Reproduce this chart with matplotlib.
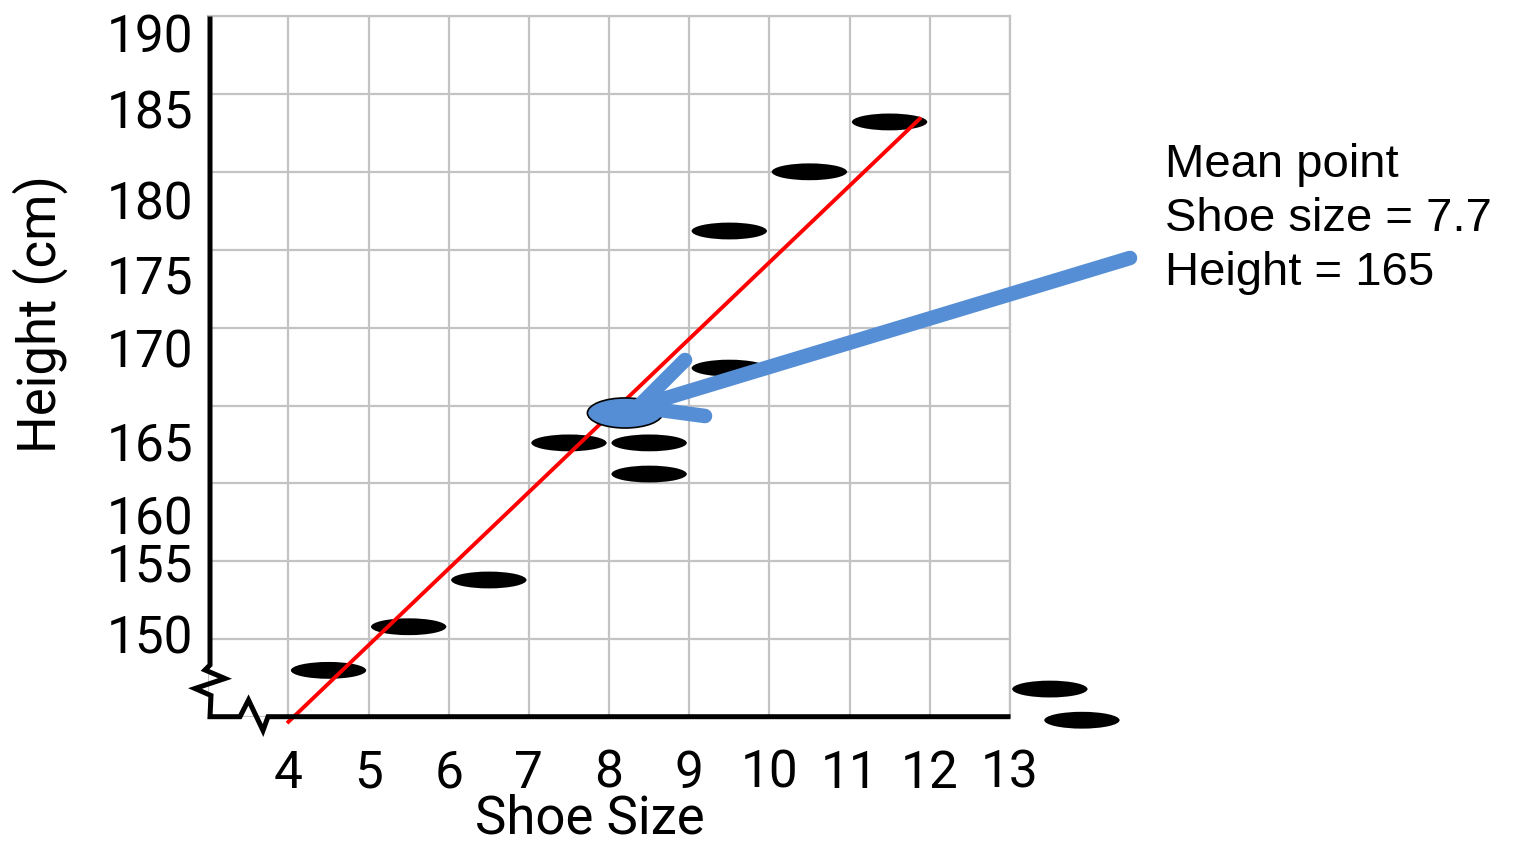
import matplotlib
matplotlib.use("Agg")
import matplotlib.pyplot as plt
import matplotlib.transforms as mtransforms
from matplotlib.patches import Ellipse

# ---- data -------------------------------------------------------------
shoe_sizes = [4, 5, 6, 7, 8, 8, 9, 9, 10, 11]
heights = [148.0, 150.8, 153.8, 162.6, 162.6, 160.6, 167.4, 176.2, 180.0, 183.2]

# two stray points sitting outside the plotted range
extra_sizes = [13.0, 13.4]
extra_heights = [146.8, 144.8]

# hand-drawn line of best fit (end points)
fit_sizes = [3.5, 11.375]
fit_heights = [144.7, 183.4]

x_tick_values = [4, 5, 6, 7, 8, 9, 10, 11, 12, 13]
x_tick_labels = ["4", "5", "6", "7", "8", "9", "10", "11", "12", "13"]
y_tick_labels = ["190", "185", "180", "175", "170", "165", "160", "155", "150"]

# ---- layout / style ---------------------------------------------------
W, H = 1518, 843
CELL = 0.5                 # each size is drawn in the middle of its grid cell
y_label_pos = [187.63, 182.81, 176.91, 172.22, 167.47, 161.50, 156.70, 153.70, 149.11]
BLUE = "#558ed5"
GRID = "#c3c3c3"
TICK_FONT = ["Roboto", "DejaVu Sans"]

mean_size = sum(shoe_sizes) / len(shoe_sizes)
mean_height = sum(heights) / len(heights)

fig = plt.figure(figsize=(W / 100, H / 100), dpi=100)
x0_px, x1_px, y0_px, y1_px = 208.3, 1009.8, 16.0, 717.1
ax = fig.add_axes([x0_px / W, 1 - y1_px / H, (x1_px - x0_px) / W, (y1_px - y0_px) / H])
ax.set_xlim(3, 13)
ax.set_ylim(145, 190)

ax.set_xticks(range(3, 14))
ax.set_yticks(range(145, 191, 5))
ax.tick_params(which="both", length=0, labelleft=False, labelbottom=False)
ax.grid(True, color=GRID, lw=1.6, zorder=0)
ax.set_axisbelow(True)
for side in ("left", "bottom"):
    ax.spines[side].set_visible(False)
for side in ("top", "right"):
    ax.spines[side].set_color(GRID)
    ax.spines[side].set_linewidth(1.6)

# data points
for s, h in zip(shoe_sizes + extra_sizes, heights + extra_heights):
    ax.add_patch(Ellipse((s + CELL, h), width=0.94, height=1.08,
                         facecolor="black", edgecolor="none", zorder=3, clip_on=False))

# line of best fit
ax.plot([s + CELL for s in fit_sizes], fit_heights, color="#ff0000", lw=2.8,
        zorder=4, clip_on=False)

# mean point
ax.add_patch(Ellipse((mean_size + CELL, mean_height), width=0.94, height=1.93,
                     facecolor=BLUE, edgecolor="black", lw=1.2, zorder=5, clip_on=False))


def fig_xy(points):
    return [p[0] / W for p in points], [1 - p[1] / H for p in points]


# axes drawn by hand, with break marks near the origin
axis_path = [(210, 19), (210, 665), (205, 670), (225, 678.5), (195, 688.5), (211, 695.5),
             (210, 716.7), (240, 716.7), (248.5, 700), (263, 730.5), (268, 716.7), (1008, 716.7)]
xs, ys = fig_xy(axis_path)
fig.add_artist(plt.Line2D(xs, ys, color="black", lw=3.6, solid_joinstyle="miter",
                          transform=fig.transFigure, zorder=6))

# arrow pointing at the mean point
shaft = [(1130, 258), (640, 406)]
head = [(685, 360), (638, 407), (705, 416)]
for path in (shaft, head):
    xs, ys = fig_xy(path)
    fig.add_artist(plt.Line2D(xs, ys, color=BLUE, lw=10.5, solid_capstyle="round",
                              solid_joinstyle="round", transform=fig.transFigure, zorder=7))

# tick labels
ytrans = mtransforms.blended_transform_factory(fig.transFigure, ax.transData)
for lab, yp in zip(y_tick_labels, y_label_pos):
    ax.text(193 / W, yp, lab, transform=ytrans, ha="right", va="baseline",
            fontsize=37, family=TICK_FONT, clip_on=False)

xtrans = mtransforms.blended_transform_factory(ax.transData, fig.transFigure)
for lab, xv in zip(x_tick_labels, x_tick_values):
    ax.text(xv, 1 - 788 / H, lab, transform=xtrans, ha="center", va="baseline",
            fontsize=37, family=TICK_FONT, clip_on=False)

# axis titles
fig.text(590 / W, 1 - 834 / H, "Shoe Size", ha="center", va="baseline",
         fontsize=38, family=TICK_FONT)
fig.text(40 / W, 1 - 314 / H, "Height (cm)", rotation=90, ha="center", va="center",
         fontsize=38, family=TICK_FONT)

# mean annotation
note_lines = ["Mean point",
              f"Shoe size = {mean_size:.1f}",
              f"Height = {mean_height:.0f}"]
for line, base in zip(note_lines, (177, 231, 285)):
    fig.text(1165 / W, 1 - base / H, line, ha="left", va="baseline",
             fontsize=34, family=["Liberation Sans", "DejaVu Sans"])

fig.savefig("out.png", dpi=100)
